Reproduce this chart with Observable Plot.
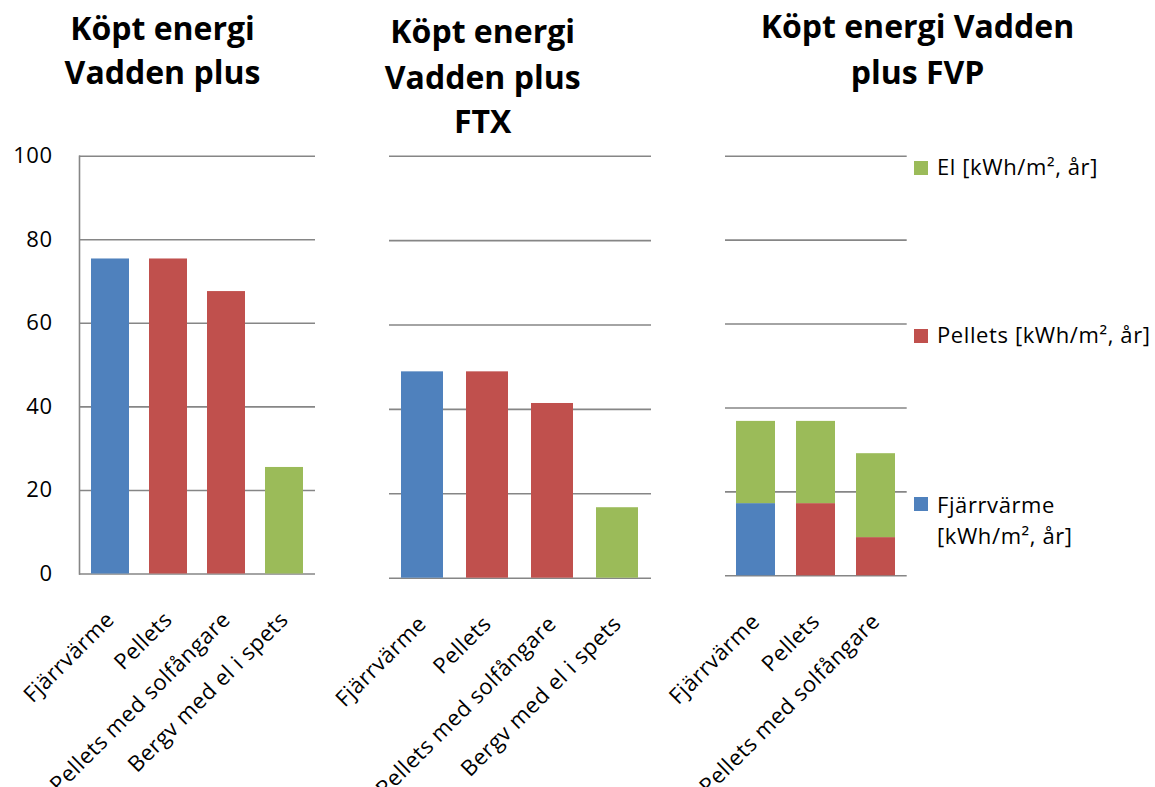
<!DOCTYPE html>
<html>
<head>
<meta charset="utf-8">
<script src="https://cdn.jsdelivr.net/npm/d3@7"></script>
<script src="https://cdn.jsdelivr.net/npm/@observablehq/plot@0.6"></script>
<style>
  html, body { margin: 0; padding: 0; background: #fff; }
  #chart { position: relative; width: 1155px; height: 787px; background: #fff; font-family: "Open Sans", Lato, sans-serif; overflow: hidden; }
  #chart svg { overflow: visible; }
  .panel { position: absolute; top: 140px; }
  .overlay { position: absolute; left: 0; top: 0; pointer-events: none; }
</style>
</head>
<body>
<div id="chart"></div>
<script>
// ---- data ----
const categories = ["Fjärrvärme", "Pellets", "Pellets med solfångare", "Bergv med el i spets"];
const seriesNames = ["Fjärrvärme [kWh/m², år]", "Pellets [kWh/m², år]", "El [kWh/m², år]"];
const seriesColors = ["#4F81BD", "#C0504D", "#9BBB59"];
const yTicks = [0, 20, 40, 60, 80, 100];

// Panel 1: Köpt energi Vadden plus
const plusSeries = ["Fjärrvärme [kWh/m², år]", "Pellets [kWh/m², år]", "Pellets [kWh/m², år]", "El [kWh/m², år]"];
const plusValues = [75.4, 75.4, 67.6, 25.5];
// Panel 2: Köpt energi Vadden plus FTX
const ftxSeries = ["Fjärrvärme [kWh/m², år]", "Pellets [kWh/m², år]", "Pellets [kWh/m², år]", "El [kWh/m², år]"];
const ftxValues = [48.9, 48.9, 41.4, 16.7];
// Panel 3: Köpt energi Vadden plus FVP (stacked: base heat source + El)
const fvpCategories = ["Fjärrvärme", "Pellets", "Pellets med solfångare"];
const fvpBaseSeries = ["Fjärrvärme [kWh/m², år]", "Pellets [kWh/m², år]", "Pellets [kWh/m², år]"];
const fvpBaseValues = [17.2, 17.2, 9.1];
const fvpElValues = [19.6, 19.6, 20.0];

const titles = [
  ["Köpt energi", "Vadden plus"],
  ["Köpt energi", "Vadden plus", "FTX"],
  ["Köpt energi Vadden", "plus FVP"]
];

// ---- build tables ----
const plusData = categories.map((c, i) => ({cat: c, series: plusSeries[i], value: plusValues[i]}));
const ftxData = categories.map((c, i) => ({cat: c, series: ftxSeries[i], value: ftxValues[i]}));
const fvpData = [];
fvpCategories.forEach((c, i) => {
  fvpData.push({cat: c, series: fvpBaseSeries[i], value: fvpBaseValues[i]});
});
fvpCategories.forEach((c, i) => {
  fvpData.push({cat: c, series: "El [kWh/m², år]", value: fvpElValues[i]});
});

const FONT = '"Open Sans", Lato, sans-serif';
const GRID = "#868686";
const H = 647;

function panel({data, domain, left, width, marginLeft, marginRight, marginBottom, yAxis}) {
  const marks = [
    Plot.ruleY(yTicks, {stroke: GRID, strokeWidth: 1.6}),
    Plot.barY(data, {x: "cat", y: "value", fill: "series"}),
    Plot.axisX({tickRotate: -45, tickSize: 0, tickPadding: 42, fontSize: 22, label: null})
  ];
  if (yAxis) {
    marks.push(Plot.axisY({ticks: yTicks, tickSize: 0, tickPadding: 27, fontSize: 22, label: null}));
    marks.push(Plot.frame({anchor: "left", stroke: GRID, strokeWidth: 1.6}));
  }
  const svg = Plot.plot({
    width, height: H,
    marginTop: 15.7, marginBottom, marginLeft, marginRight,
    style: {fontFamily: FONT, color: "#000", background: "transparent", overflow: "visible", letterSpacing: "0.5px"},
    x: {domain, paddingInner: 0.35, paddingOuter: 0.18, axis: null},
    y: {domain: [0, 100], axis: null},
    color: {domain: seriesNames, range: seriesColors},
    marks
  });
  const wrap = document.createElement("div");
  wrap.className = "panel";
  wrap.style.left = left + "px";
  wrap.appendChild(svg);
  return wrap;
}

const chart = document.getElementById("chart");
chart.appendChild(panel({data: plusData, domain: categories, left: 0, width: 330, marginLeft: 79, marginRight: 15, marginBottom: H - 433.5, yAxis: true}));
chart.appendChild(panel({data: ftxData, domain: categories, left: 370, width: 300, marginLeft: 19, marginRight: 19, marginBottom: H - 437.7, yAxis: false}));
chart.appendChild(panel({data: fvpData, domain: fvpCategories, left: 700, width: 230, marginLeft: 25, marginRight: 23.3, marginBottom: H - 435.3, yAxis: false}));

// ---- titles & legend overlay ----
const ov = d3.select(chart).append("svg")
  .attr("class", "overlay").attr("width", 1155).attr("height", 787)
  .style("font-family", FONT);

const titleCenters = [162.5, 482.7, 917.5];
const titleBaselines = [[40, 84], [43, 89, 133], [38, 84]];
titles.forEach((lines, i) => {
  lines.forEach((t, j) => {
    ov.append("text").attr("x", titleCenters[i]).attr("y", titleBaselines[i][j])
      .attr("text-anchor", "middle").attr("font-size", 32).attr("font-weight", "bold")
      .attr("fill", "#000").text(t);
  });
});

const legendItems = [
  {lines: ["El [kWh/m², år]"], color: seriesColors[2], sq: 161, base: [175]},
  {lines: ["Pellets [kWh/m², år]"], color: seriesColors[1], sq: 329, base: [343]},
  {lines: ["Fjärrvärme", "[kWh/m², år]"], color: seriesColors[0], sq: 497, base: [513, 544]}
];
legendItems.forEach(it => {
  ov.append("rect").attr("x", 914).attr("y", it.sq).attr("width", 14).attr("height", 14).attr("fill", it.color);
  it.lines.forEach((t, j) => {
    ov.append("text").attr("x", 937).attr("y", it.base[j]).attr("font-size", 22)
      .attr("letter-spacing", "0.6px").attr("fill", "#000").text(t);
  });
});
</script>
</body>
</html>
